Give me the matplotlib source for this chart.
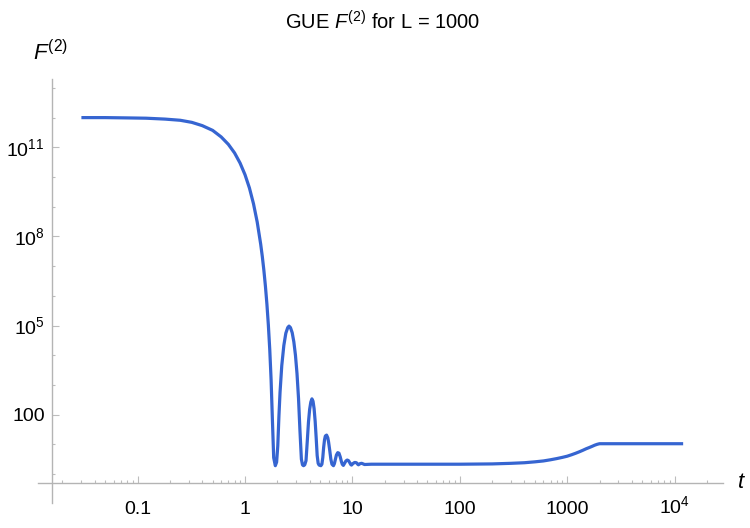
import matplotlib.pyplot as plt
import numpy as np
from matplotlib.ticker import FixedLocator, NullFormatter
from matplotlib.transforms import ScaledTranslation

# curve: time t and log10 of F^(2)
t = [0.03, 0.05, 0.08, 0.12, 0.18, 0.25, 0.32, 0.40, 0.50, 0.60,
     0.70, 0.80, 0.90, 1.00, 1.10, 1.20, 1.30, 1.40, 1.45, 1.50,
     1.55, 1.60, 1.65, 1.70, 1.75, 1.80, 1.85, 1.916,
     1.97, 2.02, 2.07, 2.12, 2.20, 2.30, 2.40, 2.50, 2.57, 2.65,
     2.75, 2.85, 2.95, 3.05, 3.15, 3.25, 3.35, 3.43, 3.508,
     3.60, 3.70, 3.80, 3.90, 4.00, 4.10, 4.20, 4.30, 4.40, 4.50,
     4.60, 4.70, 4.80, 4.90, 5.087,
     5.20, 5.30, 5.40, 5.50, 5.60, 5.75, 5.90, 6.00, 6.15, 6.30, 6.45, 6.662,
     6.80, 6.95, 7.10, 7.30, 7.50, 7.70, 7.90, 8.05, 8.235,
     8.45, 8.70, 8.95, 9.20, 9.45, 9.65, 9.808,
     10.1, 10.5, 10.9, 11.2, 11.38,
     11.8, 12.2, 12.6, 12.95,
     15, 20, 50, 100, 200, 300, 400, 500, 600, 700, 800, 900,
     1000, 1100, 1200, 1300, 1400, 1500, 1600, 1700, 1800, 1900, 2000, 12000]
log_f = [12.00, 12.00, 11.99, 11.98, 11.95, 11.91, 11.84, 11.73, 11.57, 11.35,
         11.10, 10.81, 10.47, 10.08, 9.63, 9.10, 8.48, 7.74, 7.32, 6.85,
         6.32, 5.72, 5.02, 4.20, 3.18, 1.82, 0.55, 0.28,
         0.40, 0.95, 1.95, 2.75, 3.65, 4.33, 4.74, 4.93, 4.98, 4.93,
         4.76, 4.45, 4.00, 3.38, 2.55, 1.45, 0.50, 0.31, 0.28,
         0.31, 0.45, 1.10, 1.75, 2.18, 2.42, 2.53, 2.45, 2.20, 1.78,
         1.22, 0.62, 0.36, 0.30, 0.28,
         0.33, 0.55, 0.90, 1.15, 1.28, 1.31, 1.22, 1.08, 0.80, 0.50, 0.33, 0.28,
         0.35, 0.50, 0.64, 0.72, 0.70, 0.58, 0.42, 0.33, 0.29,
         0.36, 0.44, 0.47, 0.45, 0.38, 0.32, 0.30,
         0.35, 0.39, 0.38, 0.33, 0.31,
         0.35, 0.36, 0.34, 0.32,
         0.33, 0.33, 0.33, 0.33, 0.34, 0.36, 0.38, 0.41, 0.44, 0.48, 0.52, 0.56,
         0.60, 0.65, 0.70, 0.75, 0.80, 0.85, 0.89, 0.93, 0.97, 1.00, 1.02, 1.02]

x_ticks = [0.1, 1, 10, 100, 1000, 1e4]
x_labels = ["0.1", "1", "10", "100", "1000", "$10^{4}$"]
y_ticks = [1e2, 1e5, 1e8, 1e11]
y_labels = ["100", "$10^{5}$", "$10^{8}$", "$10^{11}$"]

plt.rcParams["font.family"] = "Liberation Sans"
plt.rcParams["mathtext.fontset"] = "custom"
plt.rcParams["mathtext.rm"] = "Liberation Sans"
plt.rcParams["mathtext.it"] = "Liberation Sans:italic"

W, H = 750, 528
fig = plt.figure(figsize=(W / 100, H / 100), dpi=100)
ax = fig.add_axes([38 / W, 25 / H, 685.3 / W, 424 / H])

ax.plot(t, 10 ** np.array(log_f), color="#3665d1", lw=2.3,
        solid_joinstyle="round", solid_capstyle="butt")

ax.set_xscale("log")
ax.set_yscale("log")
ax.set_xlim(10 ** -1.927, 10 ** 4.453)
ax.set_ylim(10 ** -0.976, 10 ** 13.30)

# mathematica style axes crossing inside the frame
for s in ["top", "right"]:
    ax.spines[s].set_visible(False)
ax.spines["left"].set_position(("data", 10 ** -1.794))
ax.spines["bottom"].set_position(("data", 10 ** -0.286))
for s in ["left", "bottom"]:
    ax.spines[s].set_color("#b4b4b4")
    ax.spines[s].set_linewidth(1.0)

ax.xaxis.set_major_locator(FixedLocator(x_ticks))
ax.set_xticklabels(x_labels)
x_minor = [m * 10 ** k for k in range(-2, 5) for m in range(2, 10)]
ax.xaxis.set_minor_locator(FixedLocator(x_minor))
ax.xaxis.set_minor_formatter(NullFormatter())

ax.yaxis.set_major_locator(FixedLocator(y_ticks))
ax.set_yticklabels(y_labels)
y_minor = [10.0 ** k for k in range(0, 14) if k not in (2, 5, 8, 11)]
ax.yaxis.set_minor_locator(FixedLocator(y_minor))
ax.yaxis.set_minor_formatter(NullFormatter())

ax.tick_params(which="both", direction="in", color="#bdbdbd", width=0.8,
               labelsize=14, labelcolor="black")
ax.tick_params(which="major", length=5)
ax.tick_params(which="minor", length=2.5)
ax.tick_params(axis="x", which="major", pad=13.5)
ax.tick_params(axis="y", which="major", pad=5.5)

# the 10^4 label sits a little higher in the reference
lbl = ax.xaxis.get_major_ticks()[-1].label1
lbl.set_transform(lbl.get_transform() + ScaledTranslation(0, 6 / 100, fig.dpi_scale_trans))

fig.text(383 / W, 1 - 29 / H, "GUE $F^{(2)}$ for L = 1000", ha="center",
         va="baseline", fontsize=14.5)
fig.text(51 / W, 1 - 60 / H, "$F^{(2)}$", ha="center", va="baseline",
         fontsize=16)
fig.text(741 / W, 1 - 483 / H, "$t$", ha="center", va="center", fontsize=16)

fig.savefig("out.png", dpi=100)
